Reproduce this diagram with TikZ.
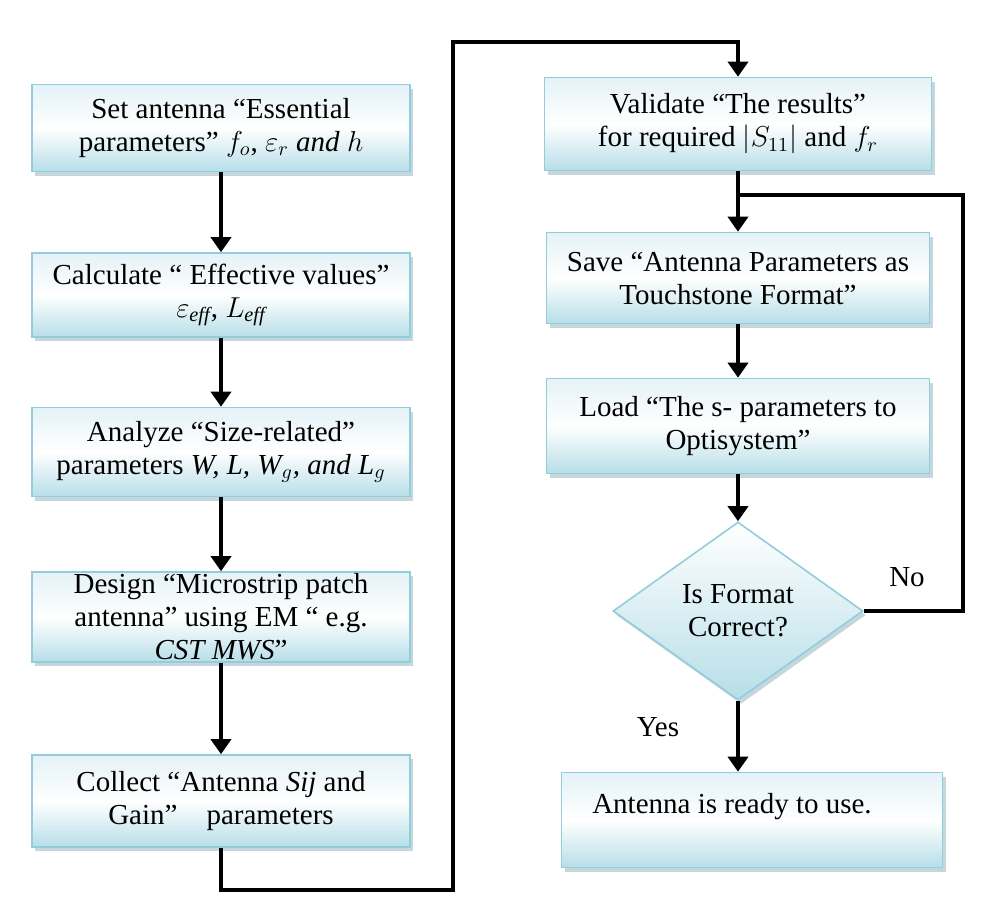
\documentclass[tikz,border=0pt]{standalone}
\usepackage{amsmath}
\usepackage{fontspec}
\setmainfont{Liberation Serif}
\usepackage{tikz}
\usetikzlibrary{shapes, arrows.meta, positioning, shadows}
\definecolor{boxedge}{RGB}{146,205,220}
\definecolor{boxfill}{RGB}{183,222,232}
\definecolor{boxtop}{RGB}{228,242,247}
\definecolor{boxshade}{RGB}{140,176,188}
\tikzstyle{paso} = [draw=boxedge, line width=0.8pt, rectangle, top color=boxtop, bottom color=boxfill, middle color=white, drop shadow={shadow xshift=1.5pt, shadow yshift=-2pt, fill=boxshade}, align=center, font=\fontsize{14.5}{16.5}\selectfont, inner sep=0pt]
\tikzstyle{decision} = [draw=boxedge, line width=0.8pt, diamond, shape aspect=1.4, top color=white, bottom color=boxfill, drop shadow={shadow xshift=1.5pt, shadow yshift=-2pt, fill=boxshade}, align=center, font=\fontsize{14.5}{16.5}\selectfont, inner sep=0pt, minimum width=125pt, minimum height=89pt]
\tikzstyle{flow} = [line width=1.8pt, -{Triangle[length=7.5pt, width=10pt]}]
\tikzstyle{line} = [line width=1.8pt]
\tikzstyle{rotulo} = [font=\fontsize{14.5}{16}\selectfont]

\begin{document}
\begin{tikzpicture}[x=0.5pt, y=-0.5pt]
	\useasboundingbox (0,0) rectangle (982,907);
	\node[paso, minimum width=189pt, minimum height=43.5pt] (b1) at (221,128) {Set antenna “Essential\\ parameters” $f_o$, $\varepsilon_r$ \textit{and} $h$};
	\node[paso, minimum width=189pt, minimum height=42pt] (b2) at (221,295) {Calculate “ Effective values”\\ $\varepsilon_{\mathit{eff}}$, $L_{\mathit{eff}}$};
	\node[paso, minimum width=189pt, minimum height=44.5pt] (b3) at (221,452) {Analyze “Size-related”\\ parameters \textit{W, L, W$_g$, and L$_g$}};
	\node[paso, minimum width=189pt, minimum height=45pt] (b4) at (221,617) {Design “Microstrip patch\\ antenna” using EM “ e.g.\\ \textit{CST MWS}”};
	\node[paso, minimum width=189pt, minimum height=46pt] (b5) at (221,801) {Collect “Antenna \textit{Sij} and\\ Gain”\quad parameters};
	\node[paso, minimum width=193.5pt, minimum height=46.5pt] (b6) at (738,124) {Validate “The results”\\ for required $|S_{11}|$ and $f_r$};
	\node[paso, minimum width=191.5pt, minimum height=45.5pt] (b7) at (738,278) {Save “Antenna Parameters as\\ Touchstone Format”};
	\node[paso, minimum width=191.5pt, minimum height=47.5pt] (b8) at (738,426) {Load “The s- parameters to\\ Optisystem”};
	\node[decision] (dec) at (738,611) {Is Format\\ Correct?};
	\node[paso, minimum width=190.5pt, minimum height=47.5pt] (b9) at (752,820) {Antenna is ready to use.\hspace*{20pt}\\ \mbox{}};
	\node[rotulo] (yes) at (658,727) {Yes};
	\node[rotulo] (no) at (907,577) {No};
	\coordinate (bottomturn) at (453,890);
	\coordinate (topturn) at (453,42);
	\coordinate (noturn) at (963,195);
	\coordinate (merge) at (738,195);
	\draw[flow] (b1.south) -- (b2.north);
	\draw[flow] (b2.south) -- (b3.north);
	\draw[flow] (b3.south) -- (b4.north);
	\draw[flow] (b4.south) -- (b5.north);
	\draw[flow] (b5.south) |- (bottomturn) -- (topturn) -| (b6.north);
	\draw[flow] (b6.south) -- (b7.north);
	\draw[flow] (b7.south) -- (b8.north);
	\draw[flow] (b8.south) -- (dec.north);
	\draw[flow] (dec.south) -- (dec.south |- b9.north);
	\draw[line] (dec.east) -| (noturn) -- (merge);
\end{tikzpicture}
\end{document}
